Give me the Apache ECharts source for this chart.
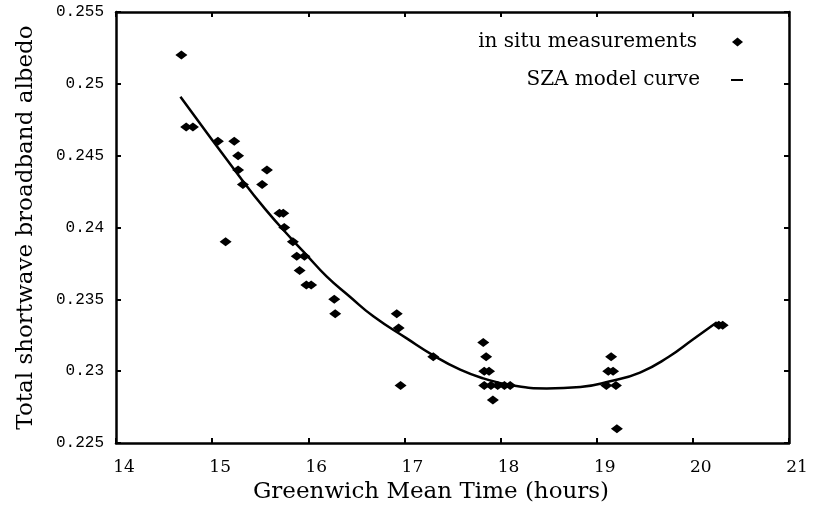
<!DOCTYPE html>
<html>
<head>
<meta charset="utf-8">
<script src="https://cdn.jsdelivr.net/npm/echarts@6/dist/echarts.min.js"></script>
<style>html,body{margin:0;padding:0;background:#fff}#c{width:824px;height:513px}</style>
</head>
<body>
<div id="c"></div>
<script>
var xTicks = [14, 15, 16, 17, 18, 19, 20, 21];
var yTicks = [0.225, 0.23, 0.235, 0.24, 0.245, 0.25, 0.255];
var obsX = [14.68, 14.73, 14.80, 15.06, 15.23, 15.27, 15.27, 15.57, 15.32, 15.52, 15.14,
  15.70, 15.74, 15.75, 15.84, 15.88, 15.96, 15.91, 15.98, 16.03, 16.27, 16.28,
  16.92, 16.94, 16.96, 17.30, 17.82, 17.85, 17.83, 17.88, 17.83, 17.90, 17.97, 18.04, 18.10,
  17.92, 19.15, 19.12, 19.17, 19.10, 19.20, 19.21, 20.27, 20.31];
var obsY = [0.252, 0.247, 0.247, 0.246, 0.246, 0.245, 0.244, 0.244, 0.243, 0.243, 0.239,
  0.241, 0.241, 0.240, 0.239, 0.238, 0.238, 0.237, 0.236, 0.236, 0.235, 0.234,
  0.234, 0.233, 0.229, 0.231, 0.232, 0.231, 0.230, 0.230, 0.229, 0.229, 0.229, 0.229, 0.229,
  0.228, 0.231, 0.230, 0.230, 0.229, 0.229, 0.226, 0.2332, 0.2332];
var curveX = [14.67, 15.29, 15.55, 15.84, 15.98, 16.19, 16.43, 16.68, 17.02, 17.30, 17.58,
  17.82, 18.13, 18.48, 18.83, 19.14, 19.45, 19.75, 20.00, 20.25];
var curveY = [0.2491, 0.2435, 0.2413, 0.2391, 0.2381, 0.2366, 0.2352, 0.2338, 0.2323, 0.2311, 0.2301,
  0.2295, 0.2290, 0.2288, 0.2289, 0.2293, 0.2299, 0.2310, 0.2322, 0.2334];
var legendNames = ['in situ measurements', 'SZA model curve'];
var xTitle = 'Greenwich Mean Time (hours)';
var yTitle = 'Total shortwave broadband albedo';

var serif = '"DejaVu Serif", serif';
var mono = '"Liberation Mono", monospace';
var obs = obsX.map(function (x, i) { return [x, obsY[i]]; });
var curve = curveX.map(function (x, i) { return [x, curveY[i]]; });

var axisLineStyle = { show: true, lineStyle: { color: '#000', width: 2.5 } };
var tickStyle = { show: true, inside: true, length: 5, lineStyle: { color: '#000', width: 2 } };

var chart = echarts.init(document.getElementById('c'));
chart.setOption({
  animation: false,
  backgroundColor: '#fff',
  grid: { left: 116, right: 35, top: 12, bottom: 70, containLabel: false },
  xAxis: [{
    type: 'value', min: xTicks[0], max: xTicks[xTicks.length - 1], interval: 1, position: 'bottom',
    axisLine: axisLineStyle, axisTick: tickStyle, splitLine: { show: false },
    axisLabel: { color: '#000', fontFamily: serif, fontSize: 17, margin: 16, padding: [0, 0, 0, 16] }
  }, {
    type: 'value', min: xTicks[0], max: xTicks[xTicks.length - 1], interval: 1, position: 'top',
    axisLine: axisLineStyle, axisTick: tickStyle, splitLine: { show: false }, axisLabel: { show: false }
  }],
  yAxis: [{
    type: 'value', min: yTicks[0], max: yTicks[yTicks.length - 1], interval: 0.005, position: 'left',
    axisLine: axisLineStyle, axisTick: tickStyle, splitLine: { show: false },
    axisLabel: { color: '#000', fontFamily: mono, fontSize: 16, margin: 12,
      formatter: function (v) { return String(+v.toFixed(3)); } },
    name: yTitle, nameLocation: 'middle', nameGap: 78,
    nameTextStyle: { color: '#000', fontFamily: serif, fontSize: 23 }
  }, {
    type: 'value', min: yTicks[0], max: yTicks[yTicks.length - 1], interval: 0.005, position: 'right',
    axisLine: axisLineStyle, axisTick: tickStyle, splitLine: { show: false }, axisLabel: { show: false }
  }],
  legend: [{
    data: [legendNames[0]], right: 76, top: 27, align: 'right', icon: 'diamond',
    itemWidth: 11, itemHeight: 9, itemGap: 10,
    textStyle: { color: '#000', fontFamily: serif, fontSize: 20, padding: [0, 30, 0, 0] }
  }, {
    data: [legendNames[1]], right: 76, top: 65, align: 'right', icon: 'rect',
    itemWidth: 12, itemHeight: 2,
    textStyle: { color: '#000', fontFamily: serif, fontSize: 20, padding: [0, 26, 0, 0] }
  }],
  graphic: [{
    type: 'text', left: 253, top: 481,
    style: { text: xTitle, fill: '#000', font: '23px "DejaVu Serif", serif' }
  }],
  series: [{
    name: legendNames[1], type: 'line', data: curve, smooth: 0.5, showSymbol: false,
    lineStyle: { color: '#000', width: 2.5 }, itemStyle: { color: '#000' }
  }, {
    name: legendNames[0], type: 'scatter', data: obs, symbol: 'diamond', symbolSize: [12, 9],
    itemStyle: { color: '#000', opacity: 1 }
  }]
});
</script>
</body>
</html>
